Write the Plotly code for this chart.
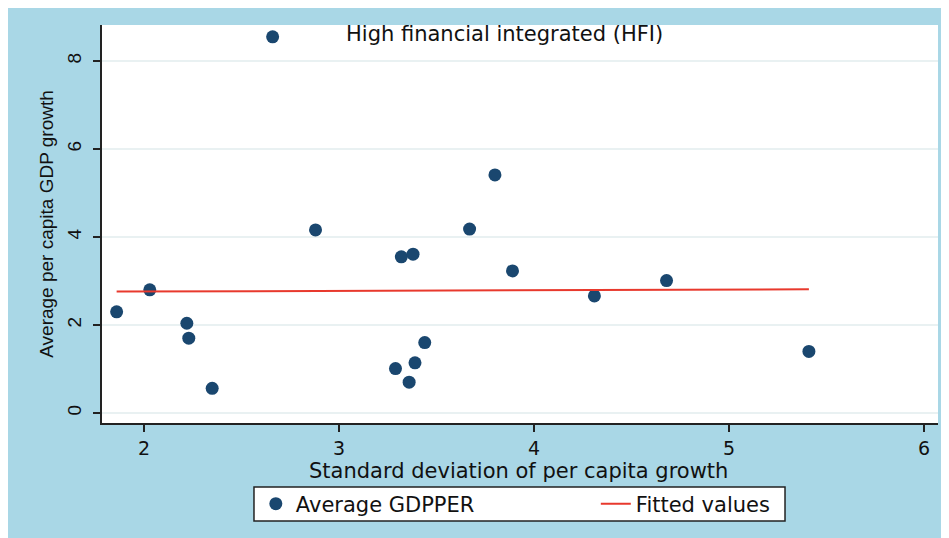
import plotly.graph_objects as go

# Data
sd_growth = [1.86, 2.03, 2.22, 2.23, 2.35, 2.66, 2.88, 3.29, 3.32, 3.36,
             3.38, 3.39, 3.44, 3.67, 3.80, 3.89, 4.31, 4.68, 5.41]
avg_gdpper = [2.30, 2.80, 2.04, 1.70, 0.56, 8.55, 4.16, 1.01, 3.55, 0.70,
              3.61, 1.14, 1.60, 4.18, 5.41, 3.23, 2.66, 3.01, 1.40]
fit_x = [1.86, 5.41]
fit_y = [2.76, 2.81]
x_ticks = [2, 3, 4, 5, 6]
y_ticks = [0, 2, 4, 6, 8]

FONT_V = "Liberation Sans, Arial, sans-serif"   # rotated (vertical) text
FONT_H = "DejaVu Sans, Verdana, sans-serif"      # horizontal text (wider)
BLUE_BG = "#a9d7e6"
NAVY = "#1a476f"
RED = "#e8392d"
TXT = "#111111"

fig = go.Figure()
fig.add_trace(go.Scatter(
    x=sd_growth, y=avg_gdpper, mode="markers", name="Average GDPPER",
    marker=dict(color=NAVY, size=13, line=dict(width=0)),
))
fig.add_trace(go.Scatter(
    x=fit_x, y=fit_y, mode="lines", name="Fitted values",
    line=dict(color=RED, width=2),
))

fig.update_layout(
    width=941, height=530,
    margin=dict(l=94, r=11, t=17, b=115),
    paper_bgcolor=BLUE_BG,
    plot_bgcolor="white",
    font=dict(family=FONT_H, size=20, color=TXT),
    showlegend=True,
    legend=dict(
        orientation="h", x=0.184, xanchor="left", y=-0.2035, yanchor="middle",
        bgcolor="rgba(0,0,0,0)", borderwidth=0,
        font=dict(family=FONT_H, size=21, color=TXT),
        entrywidth=295, entrywidthmode="pixels",
        traceorder="normal",
    ),
    shapes=[dict(
        type="rect", xref="paper", yref="paper",
        x0=0.1818, x1=0.817, y0=-0.2462, y1=-0.1608,
        fillcolor="white", line=dict(color="#222222", width=1.5),
        layer="below",
    )],
    annotations=[
        dict(text="High financial integrated (HFI)", xref="paper", yref="paper",
             x=0.481, y=0.977, xanchor="center", yanchor="middle",
             showarrow=False, font=dict(family=FONT_H, size=21, color=TXT)),
        dict(text="Standard deviation of per capita growth", xref="paper",
             yref="paper", x=0.4988, y=-0.1206, xanchor="center",
             yanchor="middle", showarrow=False,
             font=dict(family=FONT_H, size=21, color=TXT)),
    ],
)

fig.update_xaxes(
    range=[1.785, 6.072], tickvals=x_ticks,
    showline=True, linecolor="#222222", linewidth=2,
    ticks="outside", ticklen=7, tickcolor="#222222", tickwidth=1.5,
    showgrid=False, zeroline=False,
    tickfont=dict(family=FONT_H, size=19),
)
fig.update_yaxes(
    range=[-0.227, 8.818], tickvals=y_ticks, tickangle=-90,
    showline=True, linecolor="#222222", linewidth=2,
    ticks="outside", ticklen=7, tickcolor="#222222", tickwidth=1.5,
    ticklabelstandoff=4,
    showgrid=True, gridcolor="#e9f1f2", gridwidth=1.5, zeroline=False,
    title=dict(text="Average per capita GDP growth", standoff=6,
               font=dict(family=FONT_V, size=19)),
    tickfont=dict(family=FONT_V, size=19),
)

fig.write_html("out.html", post_script="document.body.style.overflow='hidden';")
